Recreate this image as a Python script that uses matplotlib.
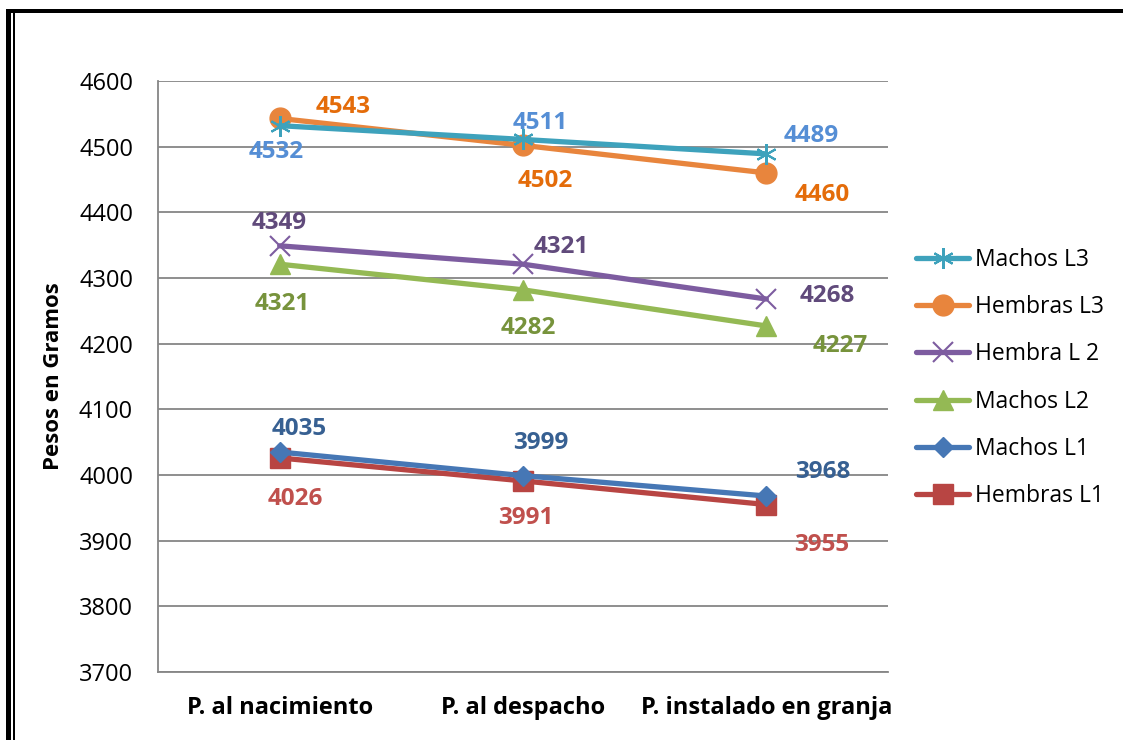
import matplotlib
matplotlib.use("Agg")
import matplotlib.pyplot as plt
from matplotlib.patches import Rectangle

plt.rcParams['font.family'] = ['Open Sans', 'DejaVu Sans']

categories = ["P. al nacimiento", "P. al despacho", "P. instalado en granja"]
series_names = ["Machos L3", "Hembras L3", "Hembra L 2", "Machos L2", "Machos L1", "Hembras L1"]
machos_l3 = [4532, 4511, 4489]
hembras_l3 = [4543, 4502, 4460]
hembra_l2 = [4349, 4321, 4268]
machos_l2 = [4321, 4282, 4227]
machos_l1 = [4035, 3999, 3968]
hembras_l1 = [4026, 3991, 3955]
yticks = [3700, 3800, 3900, 4000, 4100, 4200, 4300, 4400, 4500, 4600]

series = [machos_l3, hembras_l3, hembra_l2, machos_l2, machos_l1, hembras_l1]
line_colors = ["#3EA2BC", "#E8853D", "#7D5CA0", "#94B954", "#4677B5", "#B84543"]
label_colors = ["#558ED5", "#E46C0A", "#604A7B", "#77933C", "#376092", "#C0504D"]
markers = [(6, 2, 0), "o", "x", "^", "D", "s"]
msizes = [15, 15, 15, 14, 10, 14]
mews = [1.5, 1, 1.5, 1, 1, 1]
# label offsets in pixels (dx right, dy down)
offsets = [
    [(-3, 24), (17, -19), (45, -20)],
    [(63, -14), (22, 33), (56, 20)],
    [(0, -25), (38, -20), (61, -6)],
    [(3, 37), (5, 36), (74, 18)],
    [(20, -26), (18, -35), (56, -27)],
    [(16, 39), (3, 35), (55, 38)],
]

W, H = 1123, 740
fig = plt.figure(figsize=(W / 100, H / 100), dpi=100)
ax = fig.add_axes([158 / W, 1 - 672 / H, (888 - 158) / W, (672 - 81) / H])

x = list(range(len(categories)))
handles = []
for i, vals in enumerate(series):
    mk = markers[i]
    (ln,) = ax.plot(x, vals, color=line_colors[i], lw=3.8, marker=mk, ms=msizes[i],
                    mec=line_colors[i], mfc=line_colors[i], mew=mews[i],
                    label=series_names[i], solid_capstyle="round", zorder=3 + (5 - i) * 0.1)
    handles.append(ln)
    for j, v in enumerate(vals):
        dx, dy = offsets[i][j]
        ax.annotate(str(v), (x[j], v), xytext=(dx * 0.72, -(dy + 2.5) * 0.72),
                    textcoords="offset points",
                    ha="center", va="center", fontsize=17.5, fontweight="bold",
                    color=label_colors[i], zorder=6)

ax.set_xlim(-0.5, 2.5)
ax.set_ylim(3700, 4600)
ax.set_yticks(yticks)
ax.set_yticklabels([str(t) for t in yticks], fontsize=17)
ax.set_xticks(x)
ax.set_xticklabels(categories, fontsize=17, fontweight="bold")
ax.tick_params(axis="both", length=0)
ax.tick_params(axis="y", pad=18)
ax.tick_params(axis="x", pad=17)
ax.grid(axis="y", color="#868686", lw=1.3)
ax.set_axisbelow(True)
for s in ["top", "right"]:
    ax.spines[s].set_visible(False)
for s in ["left", "bottom"]:
    ax.spines[s].set_color("#868686")
    ax.spines[s].set_linewidth(1.3)
ax.set_ylabel("Pesos en Gramos", fontsize=16, fontweight="bold")
ax.yaxis.set_label_coords(-94 / 730, 0.5)

fig.legend(handles=handles, labels=series_names, loc="center left",
           bbox_to_anchor=(907 / W, 1 - 378 / H), frameon=False, fontsize=16.5,
           handlelength=2.3, labelspacing=1.02, handletextpad=0.25, markerscale=1.0,
           borderaxespad=0)

# outer frame
fig.add_artist(Rectangle((6 / W, 1 - 13 / H), 1 - 6 / W, 4 / H, transform=fig.transFigure,
                         color="black", lw=0))
fig.add_artist(Rectangle((6 / W, 0), 5 / W, 1 - 9 / H, transform=fig.transFigure,
                         color="black", lw=0))
fig.add_artist(Rectangle((13 / W, 0), 1.5 / W, 1 - 13 / H, transform=fig.transFigure,
                         color="black", lw=0))

fig.savefig("out.png", dpi=100)
